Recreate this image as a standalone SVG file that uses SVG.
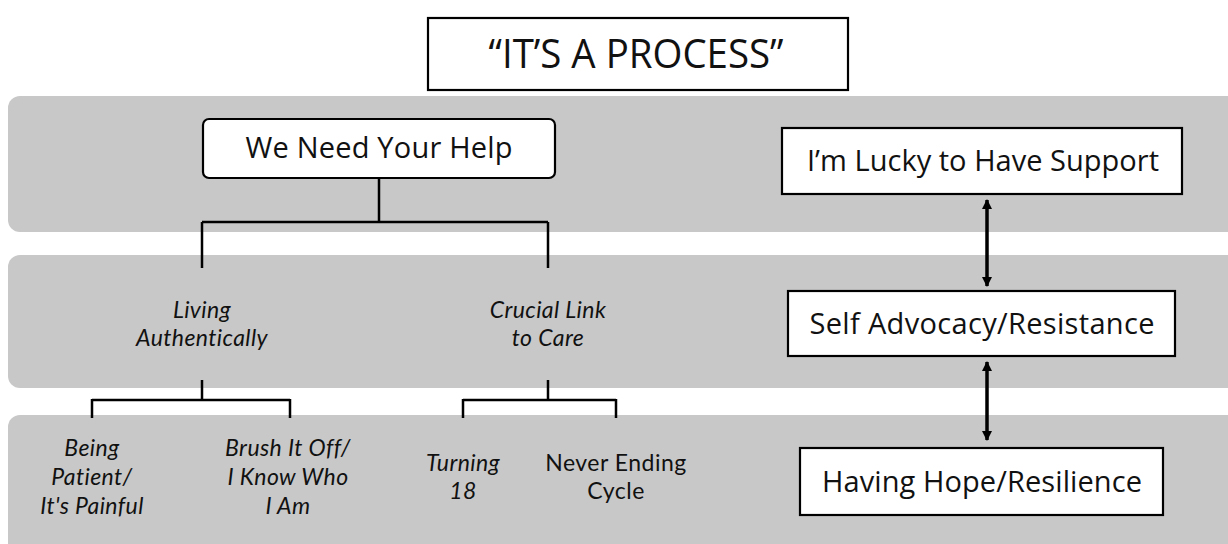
<svg xmlns="http://www.w3.org/2000/svg" width="1228" height="544" viewBox="0 0 1228 544">
<defs>
<style>
.band{fill:#c8c8c8;}
.box{fill:#fff;stroke:#000;stroke-width:2.2;}
.t{font-family:"Open Sans",Lato,"Liberation Sans",sans-serif;fill:#111;text-anchor:middle;font-size:29px;}
.ttl{font-family:"Open Sans",Lato,"Liberation Sans",sans-serif;fill:#111;text-anchor:middle;font-size:41px;}
.it{font-family:Lato,"Open Sans","Liberation Sans",sans-serif;font-style:italic;fill:#111;text-anchor:middle;font-size:23px;letter-spacing:0.4px;}
.nl{font-family:Lato,"Open Sans","Liberation Sans",sans-serif;fill:#111;text-anchor:middle;font-size:23px;letter-spacing:0.5px;}
.ln{fill:none;stroke:#000;stroke-width:2.5;}
.ar{fill:none;stroke:#000;stroke-width:3.5;marker-start:url(#ah);marker-end:url(#ah);}
</style>
<marker id="ah" viewBox="0 0 10 10" refX="9" refY="5" markerWidth="3" markerHeight="3" orient="auto-start-reverse" markerUnits="strokeWidth">
<path d="M0,0 L10,5 L0,10 z" fill="#000"/>
</marker>
</defs>
<rect width="1228" height="544" fill="#fff"/>
<g id="bands">
<rect class="band" x="8" y="96" width="1232" height="136" rx="12"/>
<rect class="band" x="8" y="255" width="1232" height="133" rx="12"/>
<rect class="band" x="8" y="415" width="1232" height="145" rx="12"/>
</g>
<g id="title">
<rect class="box" x="428" y="18" width="420" height="72"/>
<text class="ttl" x="636" y="68" textLength="295" lengthAdjust="spacingAndGlyphs">“IT’S A PROCESS”</text>
</g>
<g id="connectors">
<path class="ln" d="M379,178 V222 M202,222 H548 M202,222 V268 M548,222 V268"/>
<path class="ln" d="M202,380 V400 M92,400 H290 M92,399 V418 M290,399 V418"/>
<path class="ln" d="M548,380 V400 M463,400 H616 M463,399 V418 M616,399 V418"/>
<path class="ar" d="M987,200 V286"/>
<path class="ar" d="M987,362 V440"/>
</g>
<g id="n-help">
<rect class="box" x="203" y="119" width="352" height="59" rx="6"/>
<text class="t" x="379" y="158" textLength="267">We Need Your Help</text>
</g>
<g id="n-living">
<text class="it" x="202" y="318">Living</text>
<text class="it" x="202" y="346">Authentically</text>
</g>
<g id="n-crucial">
<text class="it" x="548" y="318">Crucial Link</text>
<text class="it" x="548" y="346">to Care</text>
</g>
<g id="n-being">
<text class="it" x="92" y="456">Being</text>
<text class="it" x="92" y="485">Patient/</text>
<text class="it" x="92" y="514">It's Painful</text>
</g>
<g id="n-brush">
<text class="it" x="288" y="456">Brush It Off/</text>
<text class="it" x="288" y="485">I Know Who</text>
<text class="it" x="288" y="514">I Am</text>
</g>
<g id="n-turning">
<text class="it" x="463" y="471">Turning</text>
<text class="it" x="463" y="499">18</text>
</g>
<g id="n-never">
<text class="nl" x="616" y="471">Never Ending</text>
<text class="nl" x="616" y="499">Cycle</text>
</g>
<g id="n-lucky">
<rect class="box" x="782" y="128" width="400" height="66"/>
<text class="t" x="983" y="171" textLength="352">I’m Lucky to Have Support</text>
</g>
<g id="n-self">
<rect class="box" x="788" y="291" width="387" height="65"/>
<text class="t" x="982" y="334" textLength="345">Self Advocacy/Resistance</text>
</g>
<g id="n-hope">
<rect class="box" x="800" y="448" width="363" height="67"/>
<text class="t" x="982" y="492" textLength="320">Having Hope/Resilience</text>
</g>
</svg>
